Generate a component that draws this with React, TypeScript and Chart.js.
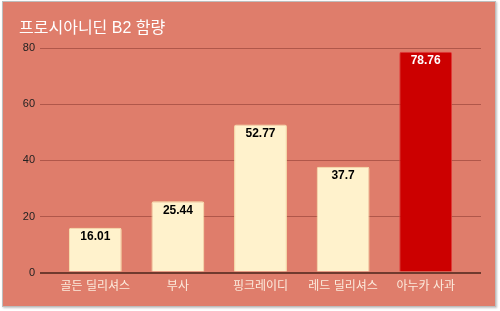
import React, { useEffect, useRef } from "react";
import { Chart, registerables } from "chart.js";

Chart.register(...registerables);

const titleText = "프로시아니딘 B2 함량";
const categories = ["골든 딜리셔스", "부사", "핑크레이디", "레드 딜리셔스", "아누카 사과"];
const values = [16.01, 25.44, 52.77, 37.7, 78.76];
const barColors = ["#FFF2CC", "#FFF2CC", "#FFF2CC", "#FFF2CC", "#CC0000"];
const barBorders = ["#F7E4B0", "#F7E4B0", "#F7E4B0", "#F7E4B0", "#E23A3A"];
const labelColors = ["#000000", "#000000", "#000000", "#000000", "#FFFFFF"];
const yTicks = [0, 20, 40, 60, 80];

const FONT = "'Liberation Sans', 'Noto Sans CJK KR', Arial, sans-serif";

const valueLabels = {
  id: "valueLabels",
  afterDatasetsDraw(chart: any) {
    const ctx = chart.ctx;
    const meta = chart.getDatasetMeta(0);
    ctx.save();
    ctx.font = `bold 12px ${FONT}`;
    ctx.textAlign = "center";
    ctx.textBaseline = "middle";
    meta.data.forEach((bar: any, i: number) => {
      ctx.fillStyle = labelColors[i];
      ctx.fillText(String(values[i]), bar.x, bar.y + 9);
    });
    ctx.restore();
  },
};

export default function App() {
  const ref = useRef<HTMLCanvasElement>(null);
  useEffect(() => {
    if (!ref.current) return;
    const gridColor = (c: any) => (c.tick && c.tick.value === 0 ? "#6F3A2E" : "#B0574A");
    const gridWidth = (c: any) => (c.tick && c.tick.value === 0 ? 2 : 1);
    const chart = new Chart(ref.current, {
      type: "bar",
      data: {
        labels: categories,
        datasets: [
          {
            data: values,
            backgroundColor: barColors,
            borderColor: barBorders,
            borderWidth: 1,
            borderRadius: 2,
            borderSkipped: "bottom",
            categoryPercentage: 0.8,
            barPercentage: 0.8,
          },
        ],
      },
      options: {
        animation: false,
        responsive: false,
        maintainAspectRatio: false,
        layout: { padding: { left: 16, right: 14, top: 0, bottom: 5 } },
        plugins: {
          legend: { display: false },
          tooltip: { enabled: false },
          title: {
            display: true,
            text: titleText,
            align: "start",
            color: "#FFFFFF",
            font: { size: 16, family: FONT, weight: "normal" },
            padding: { top: 17, bottom: 10 },
          },
        },
        scales: {
          x: {
            grid: { display: false, drawTicks: false, tickLength: 0 },
            border: { display: false },
            ticks: {
              color: "#FCEBDD",
              font: { size: 12, family: FONT },
              padding: 7,
              maxRotation: 0,
              autoSkip: false,
            },
          },
          y: {
            min: 0,
            max: 80,
            afterFit: (s: any) => {
              s.width = 35;
            },
            afterBuildTicks: (s: any) => {
              s.ticks = yTicks.map((v) => ({ value: v }));
            },
            grid: { color: gridColor, lineWidth: gridWidth, tickLength: 14, tickColor: gridColor },
            border: { display: false },
            ticks: {
              color: "#222222",
              font: { size: 11, family: FONT },
              padding: 5,
            },
          },
          yr: {
            position: "right",
            min: 0,
            max: 80,
            afterFit: (s: any) => {
              s.width = 14;
            },
            afterBuildTicks: (s: any) => {
              s.ticks = yTicks.map((v) => ({ value: v }));
            },
            grid: { drawOnChartArea: false, color: gridColor, lineWidth: gridWidth, tickLength: 14, tickColor: gridColor },
            border: { display: false },
            ticks: { display: false },
          },
        },
      },
      plugins: [valueLabels],
    } as any);
    return () => chart.destroy();
  }, []);
  return (
    <div
      style={{
        position: "absolute",
        left: 2,
        top: 1,
        width: 492,
        height: 304,
        border: "1px solid #BDBDBD",
        boxShadow: "1px 1px 2px rgba(0,0,0,0.25)",
        background: "#DF7D6B",
      }}
    >
      <canvas ref={ref} width={492} height={304} style={{ display: "block", width: 492, height: 304 }} />
    </div>
  );
}
